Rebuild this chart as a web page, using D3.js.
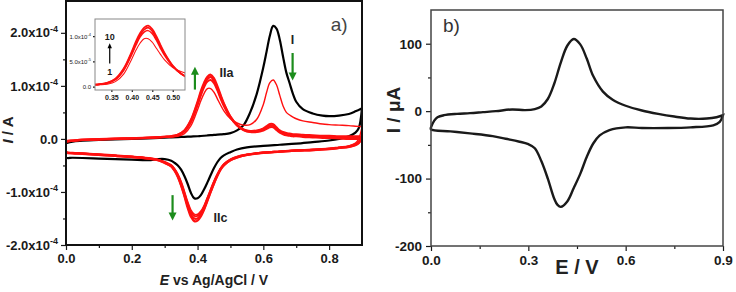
<!DOCTYPE html>
<html>
<head>
<meta charset="utf-8">
<script src="https://cdn.jsdelivr.net/npm/d3@7"></script>
<style>
    body { margin: 0; background: #fff; }
    svg text { font-family: Arial, "Liberation Sans", sans-serif; }
</style>
</head>
<body>
<div id="chart"></div>
<script>

// ---------- panel a : currents in units of 1e-4 A ----------
// forward (anodic) sweep potentials, V
const eForward = [0, 0.02, 0.05, 0.1, 0.15, 0.2, 0.25, 0.3, 0.32, 0.34, 0.36, 0.38, 0.40, 0.41, 0.42, 0.43, 0.44,
    0.45, 0.46, 0.47, 0.48, 0.50, 0.52, 0.54, 0.56, 0.58, 0.60, 0.61, 0.62, 0.63, 0.64, 0.65, 0.66, 0.67, 0.68,
    0.69, 0.70, 0.72, 0.75, 0.78, 0.80, 0.83, 0.86, 0.88, 0.9];
// reverse (cathodic) sweep potentials, V
const eReverse = [0.9, 0.89, 0.88, 0.86, 0.83, 0.8, 0.75, 0.7, 0.65, 0.6, 0.55, 0.52, 0.5, 0.48, 0.47, 0.46, 0.45,
    0.44, 0.43, 0.42, 0.41, 0.40, 0.39, 0.38, 0.37, 0.36, 0.35, 0.34, 0.33, 0.32, 0.30, 0.28, 0.25, 0.2, 0.15,
    0.1, 0.05, 0.02, 0.0];

// black scan (monomer oxidation, peak I)
const blackForward = [-0.08, -0.05, -0.035, -0.02, -0.01, 0.0, 0.01, 0.025, 0.03, 0.035, 0.04, 0.045, 0.05, 0.055,
    0.06, 0.065, 0.07, 0.075, 0.08, 0.085, 0.09, 0.11, 0.16, 0.26, 0.5, 0.85, 1.35, 1.65, 1.95, 2.13, 2.08, 1.87,
    1.55, 1.25, 1.05, 0.85, 0.70, 0.56, 0.48, 0.44, 0.43, 0.44, 0.47, 0.52, 0.58];
const blackReverse = [0.58, 0.2, 0.12, 0.05, 0.0, -0.03, -0.06, -0.09, -0.11, -0.13, -0.16, -0.2, -0.25, -0.31,
    -0.36, -0.44, -0.55, -0.68, -0.82, -0.95, -1.06, -1.12, -1.12, -1.02, -0.85, -0.7, -0.58, -0.5, -0.45, -0.41,
    -0.38, -0.38, -0.4, -0.39, -0.38, -0.37, -0.36, -0.355, -0.35];

// red scans, cycles 1, 2, 5 and 10
const red1Forward = [-0.06, -0.04, -0.025, -0.01, 0.0, 0.01, 0.02, 0.035, 0.04, 0.05, 0.1, 0.25, 0.55, 0.72, 0.86,
    0.95, 0.95, 0.88, 0.76, 0.64, 0.53, 0.38, 0.3, 0.26, 0.27, 0.37, 0.65, 0.88, 1.06, 1.11, 1.02, 0.82, 0.62, 0.5,
    0.45, 0.41, 0.38, 0.34, 0.31, 0.28, 0.27, 0.26, 0.25, 0.24, 0.23];
const red1Reverse = [0.23, 0.0, -0.08, -0.13, -0.16, -0.18, -0.2, -0.21, -0.23, -0.25, -0.29, -0.33, -0.38, -0.47,
    -0.55, -0.66, -0.79, -0.94, -1.1, -1.25, -1.36, -1.42, -1.42, -1.34, -1.18, -0.98, -0.8, -0.66, -0.56, -0.49,
    -0.43, -0.39, -0.36, -0.33, -0.31, -0.29, -0.27, -0.26, -0.24];
const red2Forward = [-0.05, -0.035, -0.02, -0.01, 0.0, 0.01, 0.02, 0.035, 0.045, 0.07, 0.14, 0.32, 0.64, 0.82, 0.98,
    1.08, 1.11, 1.05, 0.92, 0.76, 0.62, 0.4, 0.26, 0.18, 0.15, 0.16, 0.2, 0.24, 0.28, 0.28, 0.22, 0.16, 0.13, 0.11,
    0.1, 0.09, 0.09, 0.08, 0.07, 0.06, 0.06, 0.05, 0.05, 0.05, 0.05];
const red2Reverse = [0.05, -0.05, -0.1, -0.14, -0.16, -0.18, -0.2, -0.22, -0.24, -0.26, -0.3, -0.34, -0.39, -0.48,
    -0.56, -0.68, -0.81, -0.97, -1.12, -1.28, -1.39, -1.45, -1.45, -1.38, -1.22, -1.02, -0.83, -0.68, -0.57, -0.5,
    -0.44, -0.39, -0.36, -0.33, -0.31, -0.29, -0.27, -0.26, -0.24];
const red5Forward = [-0.045, -0.032, -0.018, -0.008, 0.002, 0.011, 0.021, 0.038, 0.048, 0.075, 0.15, 0.34, 0.67,
    0.86, 1.02, 1.13, 1.17, 1.1, 0.96, 0.8, 0.65, 0.41, 0.26, 0.17, 0.14, 0.14, 0.18, 0.21, 0.25, 0.25, 0.19, 0.14,
    0.11, 0.09, 0.08, 0.07, 0.07, 0.06, 0.05, 0.04, 0.04, 0.03, 0.03, 0.02, 0.02];
const red5Reverse = [0.02, -0.07, -0.11, -0.15, -0.17, -0.19, -0.21, -0.22, -0.24, -0.26, -0.3, -0.35, -0.4, -0.49,
    -0.57, -0.69, -0.83, -0.99, -1.15, -1.31, -1.43, -1.5, -1.5, -1.43, -1.26, -1.05, -0.86, -0.7, -0.59, -0.51,
    -0.45, -0.4, -0.37, -0.34, -0.32, -0.3, -0.28, -0.27, -0.25];
const red10Forward = [-0.04, -0.03, -0.015, -0.005, 0.005, 0.012, 0.022, 0.04, 0.05, 0.08, 0.16, 0.36, 0.7, 0.9,
    1.06, 1.17, 1.21, 1.14, 1.0, 0.83, 0.67, 0.42, 0.26, 0.17, 0.13, 0.13, 0.16, 0.19, 0.22, 0.22, 0.17, 0.12, 0.09,
    0.07, 0.06, 0.05, 0.05, 0.04, 0.03, 0.02, 0.02, 0.01, 0.0, 0.0, 0.0];
const red10Reverse = [0.0, -0.08, -0.12, -0.15, -0.17, -0.19, -0.21, -0.22, -0.24, -0.26, -0.3, -0.35, -0.4, -0.5,
    -0.58, -0.7, -0.84, -1.0, -1.17, -1.33, -1.46, -1.54, -1.55, -1.47, -1.3, -1.08, -0.88, -0.72, -0.6, -0.52,
    -0.45, -0.4, -0.37, -0.34, -0.32, -0.3, -0.28, -0.27, -0.25];

// ---------- panel b : current in µA ----------
const eForwardB = [0, 0.01, 0.02, 0.04, 0.08, 0.12, 0.16, 0.2, 0.25, 0.29, 0.32, 0.34, 0.36, 0.38, 0.40, 0.42, 0.44,
    0.46, 0.48, 0.50, 0.53, 0.56, 0.6, 0.65, 0.7, 0.75, 0.8, 0.85, 0.88, 0.9];
const iForwardB = [-24, -14, -9, -6, -4, -3, -1.5, 0, 2.5, 1.5, 3, 7, 18, 41, 72, 97, 107, 99, 78, 52, 29, 17, 8, 1,
    -4, -8, -11, -11, -9, -6];
const eReverseB = [0.9, 0.89, 0.87, 0.8, 0.73, 0.65, 0.6, 0.55, 0.52, 0.50, 0.48, 0.46, 0.44, 0.42, 0.40, 0.39,
    0.38, 0.36, 0.34, 0.32, 0.30, 0.27, 0.23, 0.19, 0.12, 0.06, 0.0];
const iReverseB = [-6, -16, -21, -24, -25, -25, -24, -28, -36, -48, -68, -93, -114, -134, -142, -139, -130, -100,
    -74, -55, -49, -45, -41, -37, -33, -30, -27];

// tick values
const ticksXa = [0, 0.2, 0.4, 0.6, 0.8];
const ticksYa = [-2, -1, 0, 1, 2];
const ticksXb = [0, 0.3, 0.6, 0.9];
const ticksYb = [-200, -100, 0, 100];
const ticksXin = [0.35, 0.40, 0.45, 0.50];
const ticksYin = [0, 0.5, 1.0];

// peak labels and arrows (potential, current in 1e-4 A)
const peakLabels = [{text: "IIa", e: 0.488, i: 1.17}, {text: "I", e: 0.689, i: 1.78}, {text: "IIc", e: 0.47, i: -1.57}];
const greenArrows = [{e: 0.392, from: 0.93, to: 1.36}, {e: 0.689, from: 1.62, to: 1.1}, {e: 0.324, from: -1.06, to: -1.54}];

const RED = "#ff1010", GREEN = "#1c8c1c", INK = "#1a1a1a";

const svg = d3.select("#chart").append("svg")
    .attr("width", 736)
    .attr("height", 292);

// join a forward and a reverse sweep into one closed loop
function loop(eF, iF, eR, iR) {
    let pts = eF.map((e, k) => [e, iF[k]]).concat(eR.map((e, k) => [e, iR[k]]));
    pts.push(pts[0]);
    return pts;
}

// shared look for the axis groups
function styleAxis(g, fontSize, weight) {
    g.select(".domain").remove();
    g.selectAll(".tick line").attr("stroke", INK).attr("stroke-width", 1.2);
    g.selectAll(".tick text").attr("fill", INK).attr("font-size", fontSize).attr("font-weight", weight);
    return g;
}

// labels like 2.0x10^-4
function powerLabels(g, supSize, lift, expOf) {
    g.selectAll(".tick text").each(function(d) {
        let t = d3.select(this).text("");
        if (d === 0) { t.text("0.0"); return; }
        let e = expOf(d);
        t.append("tspan").text(e.mant + "x10");
        t.append("tspan").attr("dy", -lift).attr("font-size", supSize).text(e.exp);
    });
}

// ================= panel a =================
let a = {left: 66, right: 362, top: 1, bottom: 245};
let xA = d3.scaleLinear().domain([0, 0.9]).range([a.left, a.right]);
let yA = d3.scaleLinear().domain([-2, 2.6]).range([a.bottom, a.top]);

svg.append("clipPath").attr("id", "clipA").append("rect")
    .attr("x", a.left).attr("y", a.top).attr("width", a.right - a.left).attr("height", a.bottom - a.top);

let lineA = d3.line()
    .curve(d3.curveCatmullRom.alpha(0.5))
    .x(d => xA(d[0]))
    .y(d => yA(d[1]));

let gA = svg.append("g").attr("clip-path", "url(#clipA)");

gA.append("path")
    .datum(loop(eForward, blackForward, eReverse, blackReverse))
    .attr("d", lineA).attr("fill", "none").attr("stroke", "#000").attr("stroke-width", 2.2);

let redCycles = [
    [red2Forward, red2Reverse, 2],
    [red5Forward, red5Reverse, 2.4],
    [red10Forward, red10Reverse, 2.2],
    [red1Forward, red1Reverse, 1.4]
];
redCycles.forEach(c => {
    gA.append("path")
        .datum(loop(eForward, c[0], eReverse, c[1]))
        .attr("d", lineA).attr("fill", "none").attr("stroke", RED).attr("stroke-width", c[2]);
});

// axes a
styleAxis(svg.append("g").attr("transform", "translate(0," + a.bottom + ")")
    .call(d3.axisBottom(xA).tickValues(ticksXa).tickSize(5).tickPadding(4).tickFormat(d3.format(".1f"))), 13, "bold");
styleAxis(svg.append("g").attr("transform", "translate(0," + a.bottom + ")")
    .call(d3.axisBottom(xA).tickValues([0.1, 0.3, 0.5, 0.7]).tickSize(3).tickFormat("")), 13, "bold");
let gyA = styleAxis(svg.append("g").attr("transform", "translate(" + a.left + ",0)")
    .call(d3.axisLeft(yA).tickValues(ticksYa).tickSize(5).tickPadding(3)), 13, "bold");
styleAxis(svg.append("g").attr("transform", "translate(" + a.left + ",0)")
    .call(d3.axisLeft(yA).tickValues([-1.5, -0.5, 0.5, 1.5]).tickSize(3).tickFormat("")), 13, "bold");
powerLabels(gyA, 9, 5.5, d => ({mant: d.toFixed(1), exp: "-4"}));

svg.append("rect")
    .attr("x", a.left).attr("y", a.top).attr("width", a.right - a.left).attr("height", a.bottom - a.top)
    .attr("fill", "none").attr("stroke", "#111").attr("stroke-width", 2);

// ================= inset =================
let n = {left: 95, right: 185, top: 19, bottom: 90};
let xIn = d3.scaleLinear().domain([0.31, 0.53]).range([n.left, n.right]);
let yIn = d3.scaleLinear().domain([-0.065, 1.34]).range([n.bottom, n.top]);

svg.append("rect")
    .attr("x", n.left).attr("y", n.top).attr("width", n.right - n.left).attr("height", n.bottom - n.top)
    .attr("fill", "#fff");
svg.append("clipPath").attr("id", "clipIn").append("rect")
    .attr("x", n.left).attr("y", n.top).attr("width", n.right - n.left).attr("height", n.bottom - n.top);

let lineIn = d3.line()
    .curve(d3.curveCatmullRom.alpha(0.5))
    .x(d => xIn(d[0]))
    .y(d => yIn(d[1]));
let gIn = svg.append("g").attr("clip-path", "url(#clipIn)");
redCycles.forEach(c => {
    gIn.append("path")
        .datum(eForward.map((e, k) => [e, c[0][k]]))
        .attr("d", lineIn).attr("fill", "none").attr("stroke", RED).attr("stroke-width", c[2] * 0.75);
});

styleAxis(svg.append("g").attr("transform", "translate(0," + n.bottom + ")")
    .call(d3.axisBottom(xIn).tickValues(ticksXin).tickSize(2).tickPadding(3).tickFormat(d3.format(".2f"))), 7, "bold");
let gyIn = styleAxis(svg.append("g").attr("transform", "translate(" + n.left + ",0)")
    .call(d3.axisLeft(yIn).tickValues(ticksYin).tickSize(2).tickPadding(2)), 6, "normal");
powerLabels(gyIn, 4, 3, d => ({mant: d === 1 ? "1.0" : "5.0", exp: d === 1 ? "-4" : "-5"}));

svg.append("rect")
    .attr("x", n.left).attr("y", n.top).attr("width", n.right - n.left).attr("height", n.bottom - n.top)
    .attr("fill", "none").attr("stroke", "#888").attr("stroke-width", 1);

// cycle arrow inside inset
let cx = xIn(0.346);
svg.append("text").attr("x", cx).attr("y", yIn(0.93)).attr("text-anchor", "middle")
    .attr("font-size", 9).attr("font-weight", "bold").attr("fill", INK).text("10");
svg.append("text").attr("x", cx).attr("y", yIn(0.24)).attr("text-anchor", "middle")
    .attr("font-size", 9).attr("font-weight", "bold").attr("fill", INK).text("1");
svg.append("line").attr("x1", cx).attr("x2", cx).attr("y1", yIn(0.46)).attr("y2", yIn(0.78))
    .attr("stroke", "#000").attr("stroke-width", 1.2);
svg.append("path")
    .attr("d", "M" + (cx - 2.2) + "," + yIn(0.76) + "L" + cx + "," + (yIn(0.8) - 3) + "L" + (cx + 2.2) + "," + yIn(0.76) + "Z")
    .attr("fill", "#000");

// peak labels and green arrows
svg.selectAll(".peak").data(peakLabels).enter().append("text")
    .attr("class", "peak")
    .attr("x", d => xA(d.e)).attr("y", d => yA(d.i))
    .attr("text-anchor", "middle").attr("font-size", 12.5).attr("font-weight", "bold").attr("fill", "#222")
    .text(d => d.text);

greenArrows.forEach(d => {
    let x = xA(d.e), y0 = yA(d.from), y1 = yA(d.to);
    let dir = y1 < y0 ? -1 : 1;
    svg.append("line").attr("x1", x).attr("x2", x).attr("y1", y0).attr("y2", y1 - dir * 7)
        .attr("stroke", GREEN).attr("stroke-width", 2.2);
    svg.append("path")
        .attr("d", "M" + (x - 4) + "," + (y1 - dir * 8) + "L" + x + "," + y1 + "L" + (x + 4) + "," + (y1 - dir * 8) + "Z")
        .attr("fill", GREEN);
});

svg.append("text").attr("x", xA(0.805)).attr("y", 31).attr("font-size", 19).attr("fill", "#444").text("a)");

// axis titles a
let xt = svg.append("text").attr("x", 214).attr("y", 285).attr("text-anchor", "middle")
    .attr("font-size", 14).attr("font-weight", "bold").attr("fill", "#222");
xt.append("tspan").attr("font-style", "italic").text("E");
xt.append("tspan").text(" vs Ag/AgCl / V");
let yt = svg.append("text").attr("transform", "translate(13,130) rotate(-90)").attr("text-anchor", "middle")
    .attr("font-size", 15).attr("font-weight", "bold").attr("fill", "#222");
yt.append("tspan").attr("font-style", "italic").text("I");
yt.append("tspan").text(" / A");

// ================= panel b =================
let b = {left: 431, right: 723, top: 10, bottom: 246};
let xB = d3.scaleLinear().domain([0, 0.9]).range([b.left, b.right]);
let yB = d3.scaleLinear().domain([-200, 150]).range([b.bottom, b.top]);

let lineB = d3.line()
    .curve(d3.curveCatmullRom.alpha(0.5))
    .x(d => xB(d[0]))
    .y(d => yB(d[1]));

svg.append("path")
    .datum(loop(eForwardB, iForwardB, eReverseB, iReverseB))
    .attr("d", lineB).attr("fill", "none").attr("stroke", INK).attr("stroke-width", 2.4);

styleAxis(svg.append("g").attr("transform", "translate(0," + b.bottom + ")")
    .call(d3.axisBottom(xB).tickValues(ticksXb).tickSize(5).tickPadding(4).tickFormat(d3.format(".1f"))), 13.5, "bold");
styleAxis(svg.append("g").attr("transform", "translate(0," + b.bottom + ")")
    .call(d3.axisBottom(xB).tickValues([0.15, 0.45, 0.75]).tickSize(3).tickFormat("")), 13.5, "bold");
styleAxis(svg.append("g").attr("transform", "translate(" + b.left + ",0)")
    .call(d3.axisLeft(yB).tickValues(ticksYb).tickSize(5).tickPadding(4).tickFormat(d => String(d))), 13.5, "bold");
styleAxis(svg.append("g").attr("transform", "translate(" + b.left + ",0)")
    .call(d3.axisLeft(yB).tickValues([-150, -50, 50]).tickSize(3).tickFormat("")), 13.5, "bold");

svg.append("rect")
    .attr("x", b.left).attr("y", b.top).attr("width", b.right - b.left).attr("height", b.bottom - b.top)
    .attr("fill", "none").attr("stroke", "#444").attr("stroke-width", 1.5);

svg.append("text").attr("x", 443).attr("y", 32).attr("font-size", 19).attr("fill", "#333").text("b)");
svg.append("text").attr("x", xB(0.45)).attr("y", 274).attr("text-anchor", "middle")
    .attr("font-size", 20).attr("font-weight", "bold").attr("fill", "#222").text("E / V");
svg.append("text").attr("transform", "translate(400,110) rotate(-90)").attr("text-anchor", "middle")
    .attr("font-size", 19).attr("font-weight", "bold").attr("fill", "#222").text("I / μA");

</script>
</body>
</html>
